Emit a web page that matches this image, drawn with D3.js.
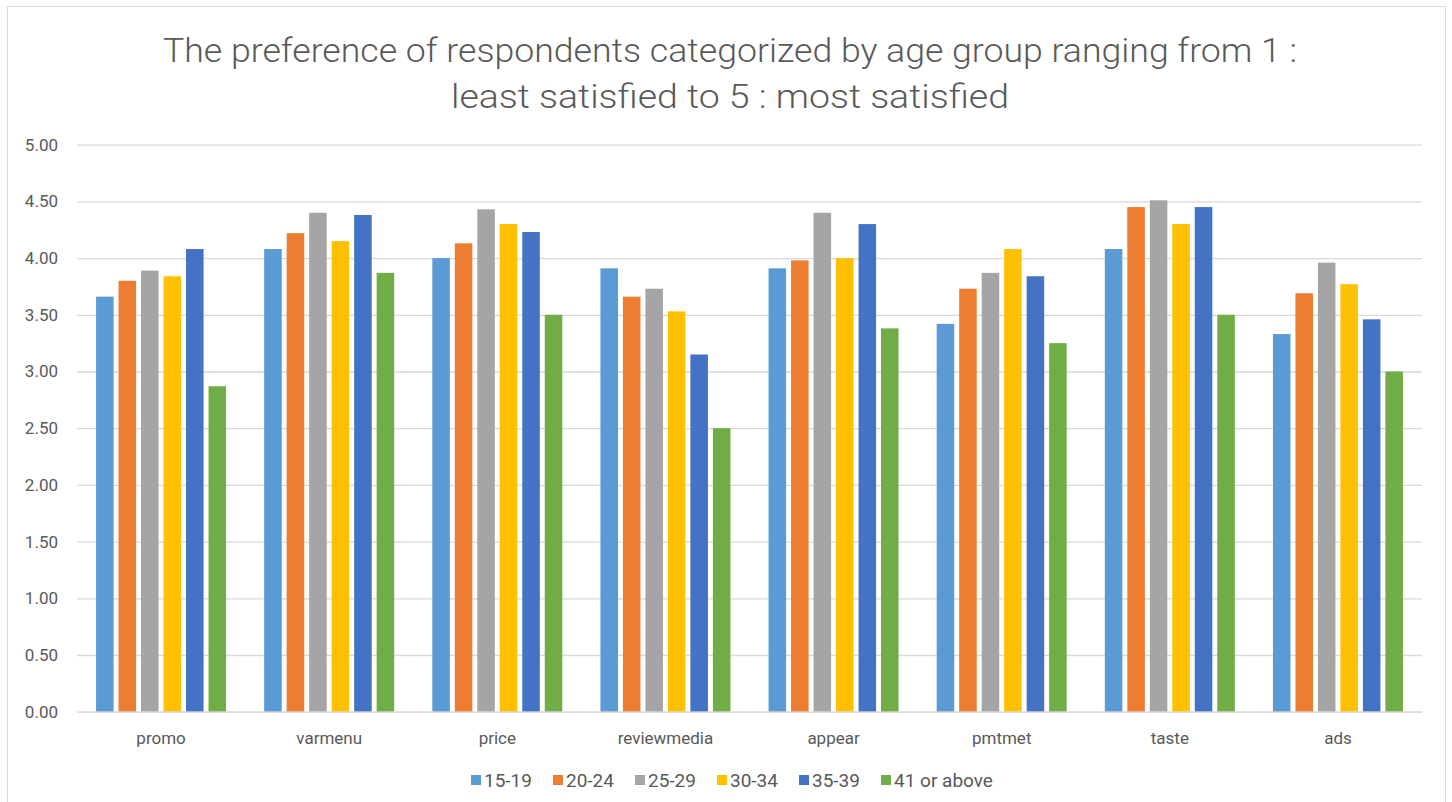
<!DOCTYPE html>
<html>
<head>
<meta charset="utf-8">
<script src="https://cdnjs.cloudflare.com/ajax/libs/d3/7.8.5/d3.min.js"></script>
<style>
    body { margin: 0; background: #fff; }
    svg { display: block; }
    text { font-family: Roboto, "Open Sans", sans-serif; fill: #595959; }
</style>
</head>
<body>
<script>

// chart values
var categories = ["promo", "varmenu", "price", "reviewmedia", "appear", "pmtmet", "taste", "ads"];
var ageGroups = ["15-19", "20-24", "25-29", "30-34", "35-39", "41 or above"];
var colors = ["#5B9BD5", "#ED7D31", "#A5A5A5", "#FFC000", "#4472C4", "#70AD47"];

var s1519 = [3.66, 4.08, 4.00, 3.91, 3.91, 3.42, 4.08, 3.33];
var s2024 = [3.80, 4.22, 4.13, 3.66, 3.98, 3.73, 4.45, 3.69];
var s2529 = [3.89, 4.40, 4.43, 3.73, 4.40, 3.87, 4.51, 3.96];
var s3034 = [3.84, 4.15, 4.30, 3.53, 4.00, 4.08, 4.30, 3.77];
var s3539 = [4.08, 4.38, 4.23, 3.15, 4.30, 3.84, 4.45, 3.46];
var s41up = [2.87, 3.87, 3.50, 2.50, 3.38, 3.25, 3.50, 3.00];
var seriesValues = [s1519, s2024, s2529, s3034, s3539, s41up];

var yTicks = [0, 0.5, 1, 1.5, 2, 2.5, 3, 3.5, 4, 4.5, 5];

var titleLines = ["The preference of respondents categorized by age group ranging from 1 :",
                  "least satisfied to 5 : most satisfied"];

var W = 1452, H = 802;
var plot = { left: 77, right: 1422, top: 144.7, bottom: 711.7 };

var svg = d3.select("body").append("svg")
    .attr("width", W)
    .attr("height", H);

// outer border of the chart
svg.append("rect")
    .attr("x", 7.5).attr("y", 6.5)
    .attr("width", 1438).attr("height", 800)
    .attr("fill", "#fff")
    .attr("stroke", "#d9d9d9");

// title
svg.append("g").selectAll("text")
    .data(titleLines)
    .enter().append("text")
    .attr("x", 730)
    .attr("y", function (d, i) { return 62 + i * 46; })
    .attr("text-anchor", "middle")
    .attr("font-size", 34)
    .attr("font-weight", 300)
    .attr("textLength", function (d, i) { return i == 0 ? 1134 : 558; })
    .attr("lengthAdjust", "spacingAndGlyphs")
    .text(function (d) { return d; });

var y = d3.scaleLinear()
    .domain([0, 5])
    .range([plot.bottom, plot.top]);

var x0 = d3.scaleBand()
    .domain(categories)
    .range([plot.left, plot.right]);

var groupWidth = 130;
var x1 = d3.scaleBand()
    .domain(ageGroups)
    .range([0, groupWidth])
    .paddingInner(0.22);

// gridlines + y labels
var yAxis = d3.axisLeft(y)
    .tickValues(yTicks)
    .tickSize(-(plot.right - plot.left))
    .tickPadding(19)
    .tickFormat(d3.format(".2f"));

var gy = svg.append("g")
    .attr("transform", "translate(" + plot.left + ",0)")
    .call(yAxis);
gy.select(".domain").remove();
gy.selectAll("line").attr("stroke", "#d9d9d9").attr("stroke-width", 1.3);
gy.selectAll("text")
    .attr("font-size", 17)
    .attr("fill", "#595959")
    .style("font-family", "Roboto, sans-serif");

// bars
var groups = svg.append("g").selectAll("g")
    .data(categories)
    .enter().append("g")
    .attr("transform", function (d) {
        return "translate(" + (x0(d) + x0.bandwidth() / 2 - groupWidth / 2) + ",0)";
    });

groups.selectAll("rect")
    .data(function (d, ci) {
        return ageGroups.map(function (g, si) { return { group: g, value: seriesValues[si][ci], si: si }; });
    })
    .enter().append("rect")
    .attr("x", function (d) { return x1(d.group); })
    .attr("width", x1.bandwidth())
    .attr("y", function (d) { return y(d.value); })
    .attr("height", function (d) { return plot.bottom - y(d.value); })
    .attr("fill", function (d) { return colors[d.si]; });

// x axis
var xAxis = d3.axisBottom(x0).tickSize(0).tickPadding(20);
var gx = svg.append("g")
    .attr("transform", "translate(0," + plot.bottom + ")")
    .call(xAxis);
gx.select(".domain").attr("stroke", "#d9d9d9").attr("stroke-width", 1.3);
gx.selectAll("text")
    .attr("font-size", 17)
    .attr("fill", "#595959")
    .style("font-family", "Roboto, sans-serif");

// legend
var legend = svg.append("g")
    .attr("transform", "translate(471,780)");

var items = legend.selectAll("g")
    .data(ageGroups)
    .enter().append("g")
    .attr("transform", function (d, i) { return "translate(" + (i * 82) + ",0)"; });

items.append("rect")
    .attr("x", 0).attr("y", -5)
    .attr("width", 10).attr("height", 10)
    .attr("fill", function (d, i) { return colors[i]; });

items.append("text")
    .attr("x", 13)
    .attr("dy", "0.35em")
    .attr("font-size", 19)
    .text(function (d) { return d; });

</script>
</body>
</html>
